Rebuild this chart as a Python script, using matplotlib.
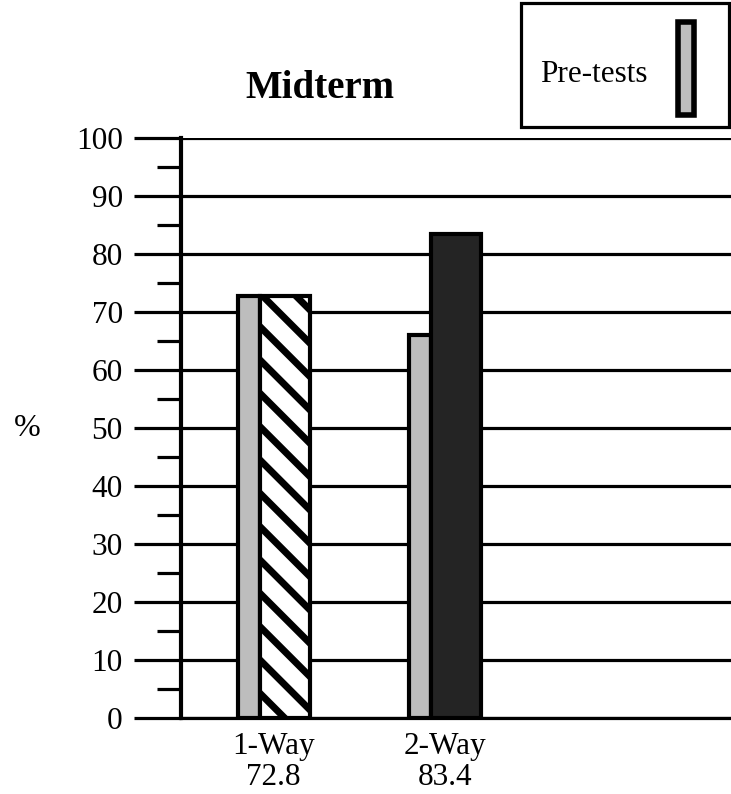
import matplotlib.pyplot as plt
from matplotlib.patches import Rectangle
from matplotlib.ticker import MultipleLocator
import numpy as np

plt.rcParams['font.family'] = ['Liberation Serif', 'DejaVu Serif']
plt.rcParams['hatch.linewidth'] = 5.0

categories = ['1-Way', '2-Way']
cat_values = ['72.8', '83.4']
pre_tests = [72.8, 66.0]
post_tests = [72.8, 83.4]
post_colors = ['white', '#242424']
post_hatches = ['\\', '']

W, H = 731, 794
fig = plt.figure(figsize=(W / 100, H / 100), dpi=100)
ax = fig.add_axes([0.2476, 0.0957, 0.7524, 0.7305])

x = np.arange(len(categories))
pre_w = 0.13
post_w = 0.29
pre_color = '#bdbdbd'

ax.bar(x, pre_tests, width=-pre_w, align='edge', color=pre_color,
       edgecolor='black', linewidth=3, zorder=3)
for i in range(len(categories)):
    ax.bar(x[i], post_tests[i], width=post_w, align='edge', color=post_colors[i],
           hatch=post_hatches[i], edgecolor='black', linewidth=3, zorder=3)

ax.set_ylim(0, 100)
ax.set_xlim(-0.462, 2.754)
ax.yaxis.set_major_locator(MultipleLocator(10))
ax.yaxis.set_minor_locator(MultipleLocator(5))
ax.grid(axis='y', which='major', color='black', linewidth=2.3, zorder=1)
ax.tick_params(axis='y', which='major', length=34, width=2.3, labelsize=22.5, pad=8)
ax.tick_params(axis='y', which='minor', length=17, width=2.3)

ax.set_xticks(x + 0.08)
ax.set_xticklabels([c + '\n' + v for c, v in zip(categories, cat_values)],
                   fontsize=22.5, linespacing=1.1)
ax.tick_params(axis='x', length=0, pad=10)

for s in ['top', 'right']:
    ax.spines[s].set_visible(False)
ax.spines['left'].set_linewidth(3)
ax.spines['bottom'].set_linewidth(2.3)

ax.set_ylabel('%', fontsize=23, rotation=0, va='center')
ax.yaxis.set_label_coords(-0.28, 0.5)

fig.text(0.438, 0.889, 'Midterm', fontsize=28, fontweight='bold', ha='center', va='center')

# legend box drawn by hand (pixel positions from the original)
fig.patches.append(Rectangle((521 / W, 1 - 127 / H), 208 / W, 124 / H,
                             transform=fig.transFigure, facecolor='white',
                             edgecolor='black', linewidth=2.3))
fig.patches.append(Rectangle((678 / W, 1 - 115 / H), 16 / W, 93 / H,
                             transform=fig.transFigure, facecolor=pre_color,
                             edgecolor='black', linewidth=4))
fig.text(540 / W, 1 - 75 / H, 'Pre-tests', fontsize=22.5, ha='left', va='center')

fig.savefig('out.png', dpi=100)
